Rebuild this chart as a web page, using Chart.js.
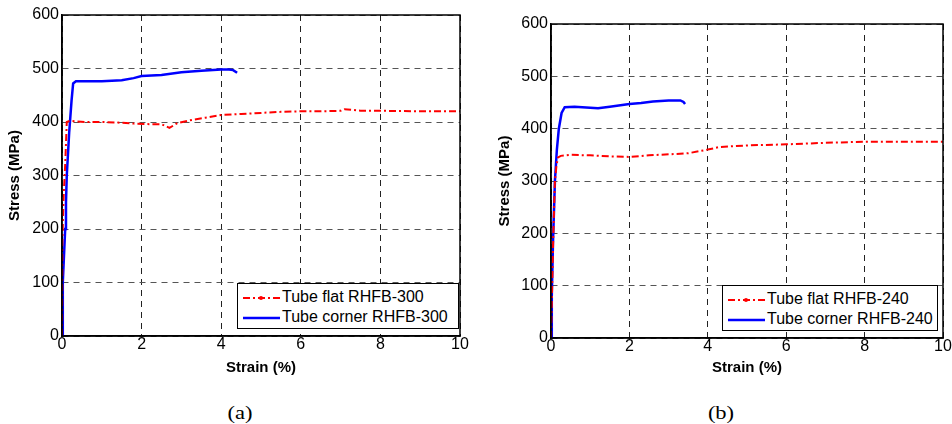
<!DOCTYPE html>
<html>
<head>
<meta charset="utf-8">
<script src="https://cdn.jsdelivr.net/npm/chart.js@4"></script>
<style>
  body { margin: 0; background: #fff; width: 952px; height: 424px; position: relative; overflow: hidden; font-family: "Liberation Sans", Arial, sans-serif; }
  canvas { position: absolute; top: 0; }
  .legend { position: absolute; background: #fff; border: 1px solid #000; font-size: 16px; line-height: 20px; box-sizing: border-box; padding: 3px 0 0 5px; }
  .legend div { white-space: nowrap; }
  .legend svg { vertical-align: middle; margin-right: 2px; }
  .caption { position: absolute; top: 403px; width: 40px; text-align: center; font-family: "Liberation Serif", "Times New Roman", serif; font-size: 18px; transform: scaleX(1.25); }
</style>
</head>
<body>
<canvas id="chartA" width="476" height="380" style="left:0px"></canvas>
<canvas id="chartB" width="462" height="380" style="left:490px"></canvas>

<div class="legend" style="left:237px; top:283px; width:222px; height:46px;">
  <div><svg width="37" height="10"><line x1="0" y1="5" x2="37" y2="5" stroke="#f00" stroke-width="2" stroke-dasharray="7,3,2,3"/><circle cx="18" cy="5" r="2" fill="#f00"/></svg>Tube flat RHFB-300</div>
  <div><svg width="37" height="10"><line x1="0" y1="5" x2="37" y2="5" stroke="#00f" stroke-width="2.5"/></svg>Tube corner RHFB-300</div>
</div>
<div class="legend" style="left:722px; top:285px; width:216px; height:46px;">
  <div><svg width="37" height="10"><line x1="0" y1="5" x2="37" y2="5" stroke="#f00" stroke-width="2" stroke-dasharray="7,3,2,3"/><circle cx="18" cy="5" r="2" fill="#f00"/></svg>Tube flat RHFB-240</div>
  <div><svg width="37" height="10"><line x1="0" y1="5" x2="37" y2="5" stroke="#00f" stroke-width="2.5"/></svg>Tube corner RHFB-240</div>
</div>

<div class="caption" style="left:220px;">(a)</div>
<div class="caption" style="left:701px;">(b)</div>

<script>
// (a) RHFB-300
const flatA_strain = [0, 0.01, 0.04, 0.08, 0.12, 0.2, 0.6, 1.0, 1.4, 1.8, 2.2, 2.5, 2.7, 2.9, 3.2, 3.6, 4.0, 4.5, 5.0, 5.5, 6.0, 6.5, 7.0, 7.1, 7.5, 8.0, 9.0, 10.0];
const flatA_stress = [0, 180, 260, 320, 400, 402, 400, 400, 399, 397, 396, 396, 389, 398, 403, 408, 413, 415, 417, 419, 420, 420, 421, 424, 421, 421, 420, 420];
const cornerA_strain = [0, 0.02, 0.08, 0.1, 0.12, 0.18, 0.24, 0.28, 0.35, 0.6, 1.0, 1.5, 1.8, 2.0, 2.5, 3.0, 3.5, 4.0, 4.2, 4.3, 4.4];
const cornerA_stress = [0, 100, 200, 250, 300, 380, 440, 472, 476, 476, 476, 478, 482, 486, 488, 493, 496, 498, 498, 497, 492];

// (b) RHFB-240
const flatB_strain = [0, 0.03, 0.06, 0.1, 0.14, 0.18, 0.25, 0.5, 1.0, 1.5, 2.0, 2.5, 3.0, 3.5, 4.0, 4.3, 5.0, 6.0, 7.0, 8.0, 9.0, 10.0];
const flatB_stress = [0, 100, 200, 300, 330, 345, 348, 350, 349, 347, 346, 349, 351, 353, 360, 365, 368, 370, 373, 375, 375, 375];
const cornerB_strain = [0, 0.02, 0.05, 0.1, 0.15, 0.2, 0.27, 0.35, 0.6, 1.0, 1.2, 1.5, 2.0, 2.3, 2.6, 3.0, 3.3, 3.38, 3.42];
const cornerB_stress = [0, 80, 180, 300, 360, 400, 430, 441, 442, 440, 439, 442, 447, 449, 452, 454, 454, 451, 447];

const xTicks = [0, 2, 4, 6, 8, 10];
const yTicks = [0, 100, 200, 300, 400, 500, 600];

function pts(xs, ys) {
    return xs.map((x, i) => ({ x: x, y: ys[i] }));
}

// draws the closed axes box
const boxPlugin = {
    id: "box",
    afterDraw(chart) {
        const a = chart.chartArea;
        const ctx = chart.ctx;
        ctx.save();
        ctx.strokeStyle = "#000";
        ctx.lineWidth = 1.5;
        ctx.strokeRect(a.left, a.top, a.right - a.left, a.bottom - a.top);
        ctx.restore();
    }
};

function makeChart(id, flatX, flatY, cornerX, cornerY, pad, yWidth, xHeight) {
    const tickFont = { family: "'Liberation Sans', Arial, sans-serif", size: 16 };
    const titleFont = { family: "'Liberation Sans', Arial, sans-serif", size: 15, weight: "bold" };
    return new Chart(document.getElementById(id), {
        type: "line",
        data: {
            datasets: [{
                label: "flat",
                data: pts(flatX, flatY),
                borderColor: "#ff0000",
                borderWidth: 2,
                borderDash: [7, 3, 2, 3],
                pointRadius: 0,
                tension: 0
            }, {
                label: "corner",
                data: pts(cornerX, cornerY),
                borderColor: "#0000ff",
                borderWidth: 2.5,
                pointRadius: 0,
                tension: 0
            }]
        },
        options: {
            responsive: false,
            animation: false,
            layout: { padding: pad },
            plugins: { legend: { display: false }, tooltip: { enabled: false } },
            scales: {
                x: {
                    type: "linear",
                    min: 0,
                    max: 10,
                    afterBuildTicks: (s) => { s.ticks = xTicks.map(v => ({ value: v })); },
                    afterFit: (s) => { s.height = xHeight; },
                    ticks: { color: "#000", font: tickFont, padding: -1 },
                    grid: { color: "#222", drawTicks: false },
                    border: { color: "#000", width: 1.5, dash: [6, 5] },
                    title: { display: true, text: "Strain (%)", color: "#000", font: titleFont, padding: { top: 0, bottom: 3 } }
                },
                y: {
                    min: 0,
                    max: 600,
                    afterBuildTicks: (s) => { s.ticks = yTicks.map(v => ({ value: v })); },
                    afterFit: (s) => { s.width = yWidth; },
                    ticks: { color: "#000", font: tickFont, padding: 3 },
                    grid: { color: "#555", drawTicks: false },
                    border: { color: "#000", width: 1.5, dash: [6, 5] },
                    title: { display: true, text: "Stress (MPa)", color: "#000", font: titleFont, padding: { top: 6, bottom: 0 } }
                }
            }
        },
        plugins: [boxPlugin]
    });
}

makeChart("chartA", flatA_strain, flatA_stress, cornerA_strain, cornerA_stress,
    { top: 15, right: 16, left: 0, bottom: 0 }, 62, 44);
makeChart("chartB", flatB_strain, flatB_stress, cornerB_strain, cornerB_stress,
    { top: 24, right: 9, left: 0, bottom: 0 }, 61, 42);
</script>
</body>
</html>
